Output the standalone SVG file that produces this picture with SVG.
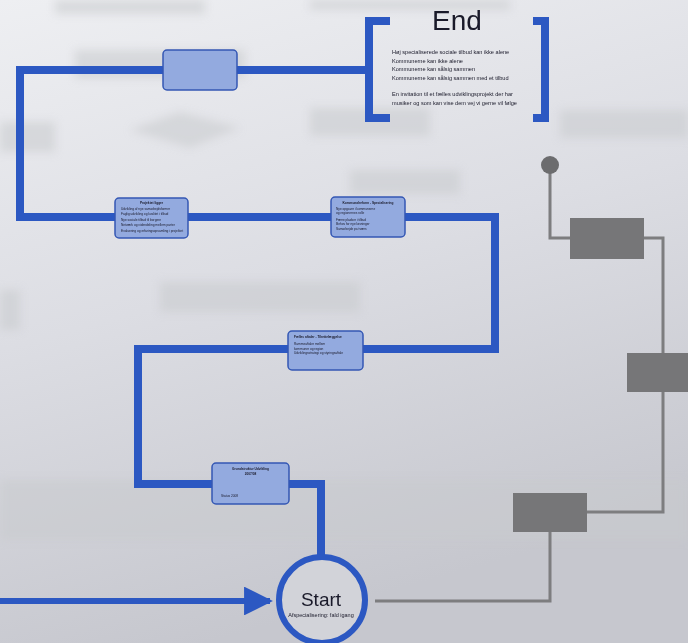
<svg xmlns="http://www.w3.org/2000/svg" width="688" height="643" viewBox="0 0 688 643">
<defs>
<linearGradient id="bg" x1="0" y1="0" x2="0.3" y2="1">
<stop offset="0" stop-color="#eeeff2"/>
<stop offset="0.5" stop-color="#dcdde3"/>
<stop offset="1" stop-color="#c6c7ce"/>
</linearGradient>
<filter id="blur" x="-20%" y="-20%" width="140%" height="140%"><feGaussianBlur stdDeviation="4"/></filter>
<marker id="arrow" viewBox="0 0 10 10" refX="9" refY="5" markerWidth="4.8" markerHeight="4.8" orient="auto" markerUnits="strokeWidth">
<path d="M0,0 L10,5 L0,10 z" fill="#2c58c2"/>
</marker>
<style>
.blue{fill:none;stroke:#2c58c2;stroke-width:8;stroke-linejoin:miter}
.gray{fill:none;stroke:#7d7d7f;stroke-width:3}
.gbox{fill:#767678}
.box{fill:#93aadf;stroke:#3457b4;stroke-width:1.5}
.tt{font-family:"Liberation Sans",Arial,sans-serif;fill:#1a1a2a}
.ghost{fill:#c9cace;opacity:0.55}
</style>
</defs>
<rect width="688" height="643" fill="url(#bg)"/>
<g filter="url(#blur)">
<rect class="ghost" x="55" y="0" width="150" height="14"/>
<rect class="ghost" x="310" y="0" width="200" height="10"/>
<rect class="ghost" x="75" y="50" width="170" height="28"/>
<polygon class="ghost" points="130,130 180,112 240,128 190,148"/>
<rect class="ghost" x="0" y="122" width="55" height="30"/>
<rect class="ghost" x="310" y="108" width="120" height="28"/>
<rect class="ghost" x="560" y="110" width="128" height="28"/>
<rect class="ghost" x="350" y="170" width="110" height="24"/>
<rect class="ghost" x="160" y="282" width="200" height="30" opacity="0.45"/>
<rect class="ghost" x="0" y="290" width="20" height="40"/>
<rect class="ghost" x="0" y="480" width="688" height="60" opacity="0.3"/>
</g>
<g id="connectors">
<polyline class="blue" points="321,556 321,484 138,484 138,349 495,349 495,217 20,217 20,70 368,70"/>
<line x1="0" y1="601" x2="270" y2="601" stroke="#2c58c2" stroke-width="6" marker-end="url(#arrow)"/>
<polyline class="gray" points="375,601 550,601 550,532"/>
<polyline class="gray" points="587,512 663,512 663,392"/>
<polyline class="gray" points="663,353 663,238 644,238"/>
<polyline class="gray" points="570,238 550,238 550,168"/>
<circle cx="550" cy="165" r="9" fill="#6c6c6e"/>
</g>
<g id="gray-boxes">
<rect class="gbox" x="513" y="493" width="74" height="39"/>
<rect class="gbox" x="627" y="353" width="61" height="39"/>
<rect class="gbox" x="570" y="218" width="74" height="41"/>
</g>
<g id="end">
<path d="M390,21 H369 V118 H390" fill="none" stroke="#2c58c2" stroke-width="8"/>
<path d="M533,21 H545 V118 H533" fill="none" stroke="#2c58c2" stroke-width="8"/>
<text class="tt" x="457" y="30" font-size="28" text-anchor="middle" fill="#111">End</text>
<g class="tt" font-size="5.6" fill="#222">
<text x="392" y="54">Høj specialiserede sociale tilbud kan ikke alene</text>
<text x="392" y="62.5">Kommunerne kan ikke alene</text>
<text x="392" y="71">Kommunerne kan sålsig sammen</text>
<text x="392" y="79.5">Kommunerne kan sålsig sammen med et tilbud</text>
<text x="392" y="96">En invitation til et fælles udviklingsprojekt der har</text>
<text x="392" y="104.5">musiker og som kan vise dem vej vi gerne vil følge</text>
</g>
</g>
<g id="box0">
<rect class="box" x="163" y="50" width="74" height="40" rx="4"/>
</g>
<g id="box1">
<rect class="box" x="115" y="198" width="73" height="40" rx="4"/>
<g class="tt" font-size="3.2">
<text x="151.5" y="204" text-anchor="middle" font-weight="bold">Projektet ligger</text>
<text x="121" y="210">Udvikling af nye samarbejdsformer</text>
<text x="121" y="215">Faglig udvikling og kvalitet i tilbud</text>
<text x="121" y="221">Nye sociale tilbud til borgere</text>
<text x="121" y="226">Netværk og videndeling mellem parter</text>
<text x="121" y="232">Evaluering og erfaringsopsamling i projektet</text>
</g>
</g>
<g id="box2">
<rect class="box" x="331" y="197" width="74" height="40" rx="4"/>
<g class="tt" font-size="3.2">
<text x="368" y="204" text-anchor="middle" font-weight="bold">Kommunalreform - Specialisering</text>
<text x="336" y="210">Nye opgaver i kommunerne</text>
<text x="336" y="214">og regionernes rolle</text>
<text x="336" y="221">Færre pladser i tilbud</text>
<text x="336" y="225">Behov for nye løsninger</text>
<text x="336" y="230">Samarbejde på tværs</text>
</g>
</g>
<g id="box3">
<rect class="box" x="288" y="331" width="75" height="39" rx="4"/>
<g class="tt" font-size="3.2">
<text x="294" y="338" font-weight="bold">Fælles aftaler - Tilrettelæggelse</text>
<text x="294" y="345">Rammeaftaler mellem</text>
<text x="294" y="350">kommuner og region</text>
<text x="294" y="354">Udviklingsstrategi og styringsaftale</text>
</g>
</g>
<g id="box4">
<rect class="box" x="212" y="463" width="77" height="41" rx="4"/>
<g class="tt" font-size="3.2">
<text x="250.5" y="470" text-anchor="middle" font-weight="bold">Grundstruktur Udvikling</text>
<text x="250.5" y="474.5" text-anchor="middle" font-weight="bold">2007/08</text>
<text x="221" y="497">Status 2008</text>
</g>
</g>
<g id="start">
<circle cx="322" cy="600" r="43" fill="#d2d3d9" stroke="#2c58c2" stroke-width="6"/>
<text class="tt" x="321" y="606" font-size="19" text-anchor="middle" fill="#1a1a1a">Start</text>
<text class="tt" x="321" y="617" font-size="5.5" text-anchor="middle">Afspecialisering: fald igang</text>
</g>
</svg>
